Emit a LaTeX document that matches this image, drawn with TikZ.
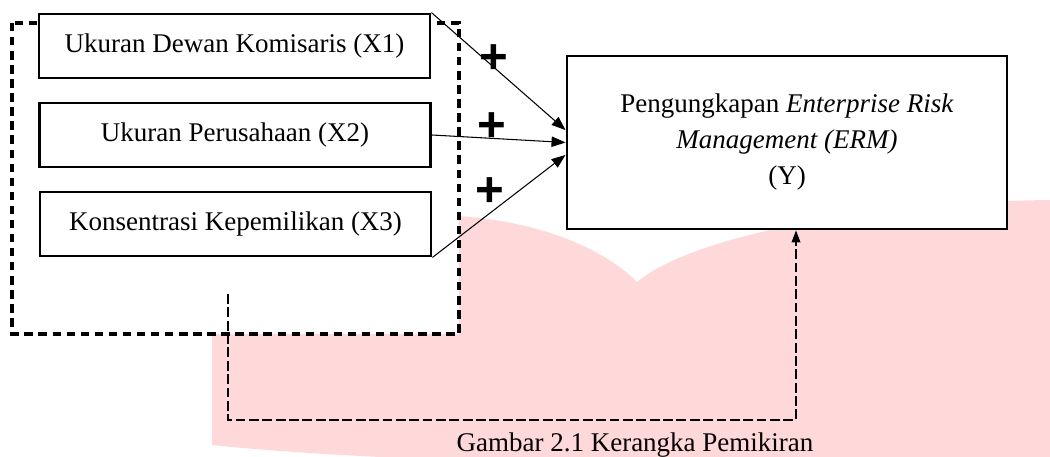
\documentclass[tikz,border=0pt]{standalone}
\usepackage{fontspec}
\setmainfont{Liberation Serif}
\newfontfamily\plusfont{Liberation Sans}
\usetikzlibrary{arrows.meta}
\definecolor{wmpink}{RGB}{255,217,218}
\begin{document}
\begin{tikzpicture}[x=0.025cm,y=-0.025cm,
    txt/.style={font=\fontsize{19.2}{25.6}\selectfont},
    varbox/.style={draw,txt,line width=2pt,fill=white,minimum width=9.775cm,minimum height=1.6cm,inner sep=0pt},
    plus/.style={font=\plusfont\bfseries\fontsize{35}{35}\selectfont,inner sep=0pt},
    arr/.style={-{Triangle[length=0.35cm,width=0.26cm]},line width=0.75pt}]
    \useasboundingbox (0,0) rectangle (1050,457);
    % watermark
    \fill [wmpink] (212,445) -- (212,330) .. controls (212,250) and (330,213) .. (440,215)
        .. controls (530,218) and (600,245) .. (637,282)
        .. controls (700,230) and (900,200) .. (1060,200) -- (1060,470)
        .. controls (800,470) and (400,465) .. (212,445) -- cycle;
    \draw [fill=white,line width=2.2pt,dash pattern=on 6pt off 4pt] (12,23) rectangle (459,334);
    \node [varbox] (X1) at (234.5,46) {Ukuran Dewan Komisaris (X1)};
    \node [varbox] (X2) at (235,135) {Ukuran Perusahaan (X2)};
    \node [varbox] (X3) at (235.5,224) {Konsentrasi Kepemilikan (X3)};
    \node [draw,txt,line width=2pt,fill=white,minimum width=11cm,minimum height=4.325cm,align=center] (Y) at (787,142.5)
        {Pengungkapan \textit{Enterprise Risk}\\ \textit{Management (ERM)}\\ (Y)};
    \draw [arr] (X1.north east) -- ([yshift=0.31cm]Y.west);
    \draw [arr] (X2.east) -- (Y.west);
    \draw [arr] (X3.south east) -- ([yshift=-0.31cm]Y.west);
    \node [plus] (p1) at (494,59) {+};
    \node [plus] (p2) at (492,127) {+};
    \node [plus] (p3) at (490,192) {+};
    \coordinate (s) at (228,294);
    \coordinate (c) at (228,420);
    \draw [-{Triangle[length=0.3cm,width=0.22cm]},line width=0.9pt,dash pattern=on 7pt off 2.5pt] (s) -- (c) -| ([xshift=0.225cm]Y.south);
    \node [txt,anchor=base] (cap) at (635,451) {Gambar 2.1 Kerangka Pemikiran};
\end{tikzpicture}
\end{document}
